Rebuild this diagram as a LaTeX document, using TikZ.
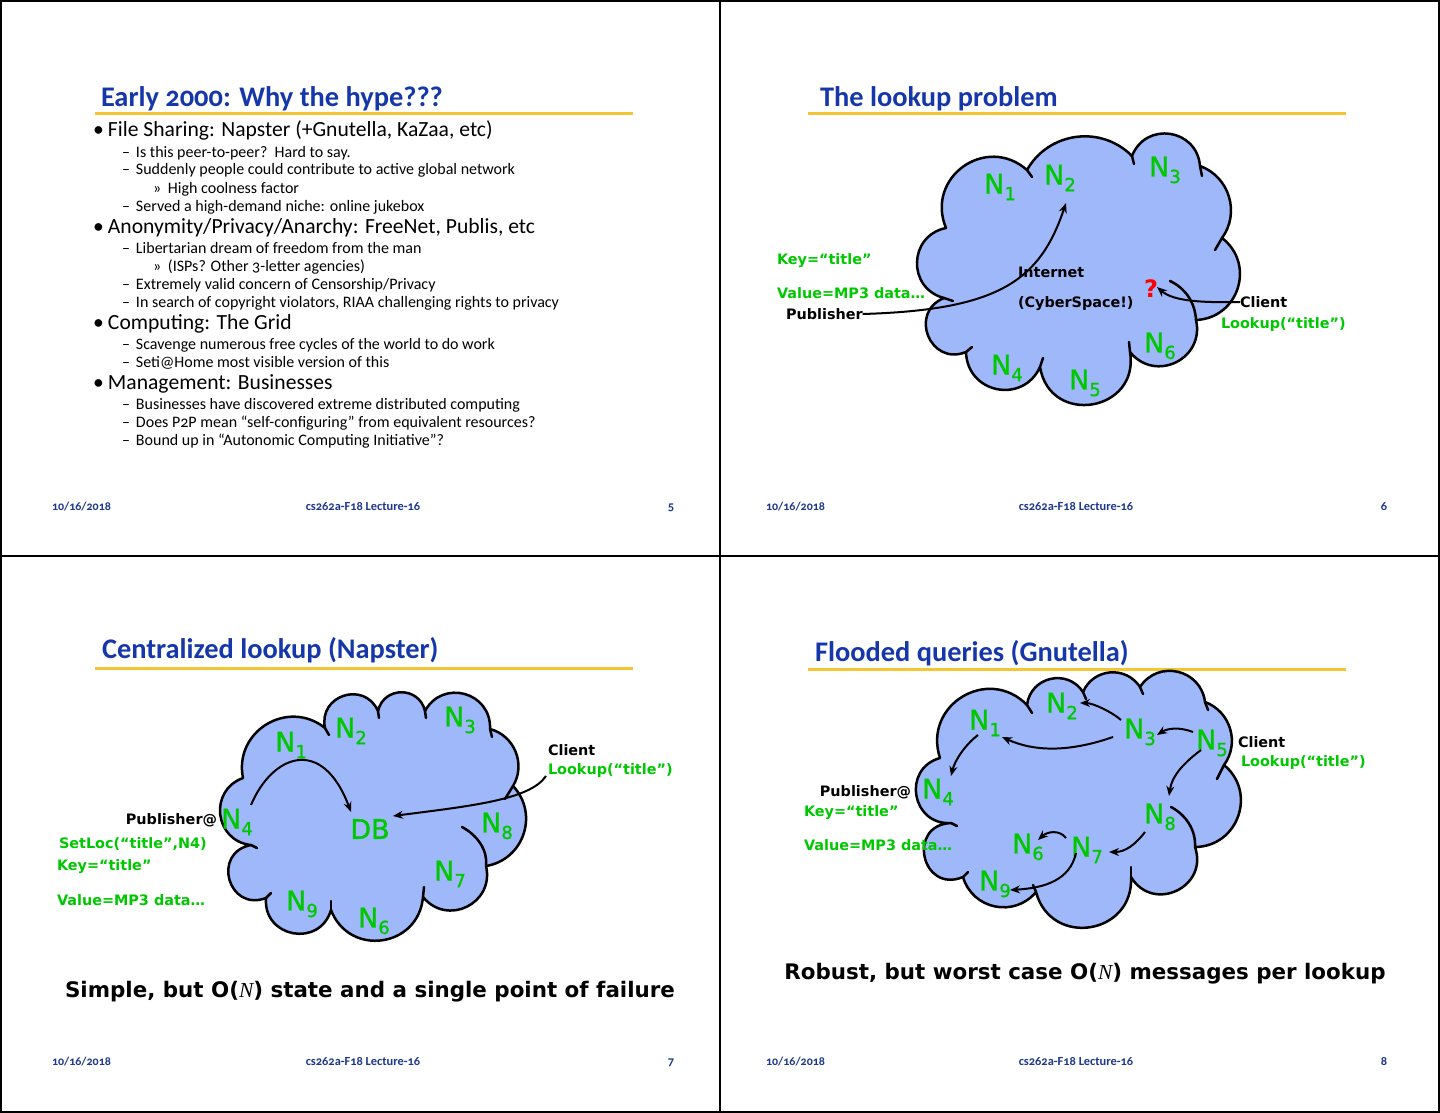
\documentclass[tikz,border=0pt]{standalone}
\usepackage{fontspec}
\setmainfont{Carlito}[Numbers=OldStyle]
\newfontfamily\comic{DejaVu Sans}
\newfontfamily\comicn{DejaVu Sans}[FakeBold=1.2]
\newfontfamily\serifit{Liberation Serif}
\usetikzlibrary{arrows.meta}
\definecolor{ttlblue}{RGB}{22,55,170}
\definecolor{gold}{RGB}{245,196,50}
\definecolor{lgreen}{RGB}{0,200,0}
\definecolor{cloudblue}{RGB}{158,184,250}
\definecolor{footblue}{RGB}{30,55,140}
\newcommand\nsub[1]{N\raisebox{-3.3pt}{\fontsize{9}{9}\selectfont#1}}
\tikzset{
  every node/.style={inner sep=0pt, outer sep=0pt},
  frame/.style={draw=black, line width=0.75pt},
  ttl/.style={anchor=base west, font=\fontsize{14.2}{16}\selectfont\bfseries, text=ttlblue},
  rulegold/.style={draw=gold, line width=1.5pt},
  footl/.style={anchor=base west, font=\fontsize{6}{7}\selectfont\bfseries, text=footblue},
  footc/.style={anchor=base, font=\fontsize{6.2}{7}\selectfont\bfseries, text=footblue},
  lvlA/.style={anchor=base west, font=\fontsize{10.8}{12}\selectfont},
  lvlB/.style={anchor=base west, font=\fontsize{8}{9}\selectfont},
  cloudbody/.style={draw=black, fill=cloudblue, line width=1.25pt, line join=round},
  hook/.style={draw=black, line width=1.25pt, line cap=round},
  nlab/.style={font=\comicn\fontsize{13.5}{14}\selectfont, text=lgreen},
  glab/.style={anchor=west, font=\comic\bfseries\fontsize{7.2}{8}\selectfont, text=lgreen},
  klab/.style={anchor=west, font=\comic\bfseries\fontsize{7.2}{8}\selectfont, text=black},
  arr/.style={draw=black, line width=1pt, -{Stealth[length=5pt,width=4pt]}},
  bigtxt/.style={font=\comic\bfseries\fontsize{10.7}{12}\selectfont},
  b25/.style={bend left=53,looseness=1.06},
  b30/.style={bend left=62,looseness=1.16},
  b35/.style={bend left=70,looseness=1.27},
  b40/.style={bend left=77,looseness=1.40},
  b45/.style={bend left=84,looseness=1.54},
  b50/.style={bend left=90,looseness=1.70},
  b55/.style={bend left=95,looseness=1.88},
  b60/.style={bend left=100,looseness=2.07}
}
\begin{document}
\begin{tikzpicture}[x=0.5pt,y=-0.5pt]
\useasboundingbox (0,0) rectangle (1440,1113);
\fill[white] (0,0) rectangle (1440,1113);
\draw[frame] (1,1) rectangle (1439,1112);
\draw[frame] (720,1) -- (720,1112);
\draw[frame] (1,556) -- (1439,556);

% ---------------- Slide 1 ----------------
\node[ttl] (t1) at (101,106) {Early 2000: Why the hype???};
\draw[rulegold] (95,114) -- (633,114);
\node[lvlA] (a1) at (93,137) {\makebox[7.5pt][l]{•}File Sharing: Napster (+Gnutella, KaZaa, etc)};
\node[lvlB] (a2) at (122,157) {\makebox[7pt][l]{–}Is this peer-to-peer?\ \ Hard to say.};
\node[lvlB] (a3) at (122,175) {\makebox[7pt][l]{–}Suddenly people could contribute to active global network};
\node[lvlB] (a4) at (153,193) {\makebox[7.5pt][l]{»}High coolness factor};
\node[lvlB] (a5) at (122,211) {\makebox[7pt][l]{–}Served a high-demand niche: online jukebox};
\node[lvlA] (a6) at (93,233) {\makebox[7.5pt][l]{•}Anonymity/Privacy/Anarchy: FreeNet, Publis, etc};
\node[lvlB] (a7) at (122,253) {\makebox[7pt][l]{–}Libertarian dream of freedom from the man};
\node[lvlB] (a8) at (153,271) {\makebox[7.5pt][l]{»}(ISPs? Other 3-letter agencies)};
\node[lvlB] (a9) at (122,289) {\makebox[7pt][l]{–}Extremely valid concern of Censorship/Privacy};
\node[lvlB] (a10) at (122,307) {\makebox[7pt][l]{–}In search of copyright violators, RIAA challenging rights to privacy};
\node[lvlA] (a11) at (93,329) {\makebox[7.5pt][l]{•}Computing: The Grid};
\node[lvlB] (a12) at (122,349) {\makebox[7pt][l]{–}Scavenge numerous free cycles of the world to do work};
\node[lvlB] (a13) at (122,367) {\makebox[7pt][l]{–}Seti@Home most visible version of this};
\node[lvlA] (a14) at (93,389) {\makebox[7.5pt][l]{•}Management: Businesses};
\node[lvlB] (a15) at (122,409) {\makebox[7pt][l]{–}Businesses have discovered extreme distributed computing};
\node[lvlB] (a16) at (122,427) {\makebox[7pt][l]{–}Does P2P mean “self-configuring” from equivalent resources?};
\node[lvlB] (a17) at (122,445) {\makebox[7pt][l]{–}Bound up in “Autonomic Computing Initiative”?};
\node[footl] (f1a) at (52,510) {10/16/2018};
\node[footc] (f1b) at (363,510) {cs262a-F18 Lecture-16};
\node[footc] (f1c) at (671,510) {5};

% ---------------- Slide 2 ----------------
\node[ttl] (t2) at (820,106) {The lookup problem};
\draw[rulegold] (808,114) -- (1346,114);
\path[cloudbody] (946,228) to[b40] (1027,170) to[b25] (1132,156) to[b40] (1200,166) to[b25] (1222,238) to[b35] (1196,320) to[b40] (1130,352) to[b50] (1040,367) to[b40] (966,352) to[b50] (944,298) to[b40] (946,228) -- cycle;
\draw[hook] (1027,170) -- (1032,177);
\draw[hook] (1132,156) -- (1134,164);
\draw[hook] (1200,166) -- (1202,176);
\draw[hook] (1222,238) -- (1215,250);
\draw[hook] (1170,281) .. controls (1185,288) and (1195,302) .. (1196,320);
\draw[hook] (1130,352) -- (1129,342);
\draw[hook] (1040,367) -- (1043,358);
\draw[hook] (966,352) -- (972,347);
\draw[hook] (944,298) -- (953,301);
\node[nlab] (b1) at (1000,187) {\nsub{1}};
\node[nlab] (b2) at (1060,178) {\nsub{2}};
\node[nlab] (b3) at (1165,170) {\nsub{3}};
\node[nlab] (b4) at (1007,368) {\nsub{4}};
\node[nlab] (b5) at (1085,383) {\nsub{5}};
\node[nlab] (b6) at (1160,346) {\nsub{6}};
\node[glab] (bkey) at (777,261) {Key=“title”};
\node[glab] (bval) at (777,293) {Value=MP3 data…};
\node[klab] (bpub) at (786,314) {Publisher};
\node[klab] (binet) at (1018,272) {Internet};
\node[klab] (bcyb) at (1018,304) {(CyberSpace!)};
\node[font=\comic\bfseries\fontsize{12}{12}\selectfont, text=red] (bq) at (1151,289) {?};
\node[klab] (bcli) at (1240,302) {Client};
\node[glab] (blook) at (1221,325) {Lookup(“title”)};
\draw[arr] (bpub.east) .. controls (1000,310) and (1040,280) .. ([shift={(6,25)}]b2.center);
\draw[arr] (bcli.west) .. controls (1195,303) and (1172,300) .. ([shift={(6,-2)}]bq.center);
\node[footl] (f2a) at (766,510) {10/16/2018};
\node[footc] (f2b) at (1076,510) {cs262a-F18 Lecture-16};
\node[footc] (f2c) at (1384,510) {6};

% ---------------- Slide 3 ----------------
\node[ttl] (t3) at (102,658) {Centralized lookup (Napster)};
\draw[rulegold] (95,668) -- (633,668);
\path[cloudbody] (243,778) to[b35] (325,728) to[b45] (378,711) to[b40] (425,711) to[b40] (490,729) to[b25] (513,786) to[b30] (486,866) to[b40] (423,897) to[b40] (331,910) to[b45] (266,898) to[b55] (251,845) to[b40] (243,778) -- cycle;
\draw[hook] (325,728) -- (329,735);
\draw[hook] (378,711) -- (379,718);
\draw[hook] (425,711) -- (426,718);
\draw[hook] (490,729) -- (492,737);
\draw[hook] (513,786) -- (505,799);
\draw[hook] (462,827) .. controls (477,835) and (488,850) .. (486,866);
\draw[hook] (423,897) -- (424,887);
\draw[hook] (331,910) -- (331,901);
\draw[hook] (266,898) -- (271,893);
\draw[hook] (251,845) -- (257,848);
\node[nlab] (c1) at (291,745) {\nsub{1}};
\node[nlab] (c2) at (351,731) {\nsub{2}};
\node[nlab] (c3) at (460,720) {\nsub{3}};
\node[nlab] (c4) at (237,822) {\nsub{4}};
\node[nlab] (cdb) at (370,829) {DB};
\node[nlab] (c8) at (497,826) {\nsub{8}};
\node[nlab] (c7) at (450,874) {\nsub{7}};
\node[nlab] (c9) at (302,904) {\nsub{9}};
\node[nlab] (c6) at (374,921) {\nsub{6}};
\node[klab] (ccli) at (548,750) {Client};
\node[glab] (clook) at (548,771) {Lookup(“title”)};
\node[klab, anchor=east] (cpub) at (217,820) {Publisher@};
\node[glab] (cset) at (59,844) {SetLoc(“title”,N4)};
\node[glab] (ckey) at (57,867) {Key=“title”};
\node[glab] (cval) at (57,900) {Value=MP3 data…};
\draw[arr] ([shift={(14,-17)}]c4.center) .. controls (272,755) and (322,735) .. ([shift={(-19,-17)}]cdb.center);
\draw[arr] ([shift={(-2,5)}]clook.west) .. controls (530,800) and (470,806) .. ([shift={(23,-13)}]cdb.center);
\node[bigtxt] (csum) at (370,992) {Simple, but O({\serifit\mdseries\itshape N}) state and a single point of failure};
\node[footl] (f3a) at (52,1065) {10/16/2018};
\node[footc] (f3b) at (363,1065) {cs262a-F18 Lecture-16};
\node[footc] (f3c) at (671,1065) {7};

% ---------------- Slide 4 ----------------
\node[ttl] (t4) at (815,661) {Flooded queries (Gnutella)};
\draw[rulegold] (808,669) -- (1346,669);
\path[cloudbody] (940,758) to[b40] (1027,705) to[b35] (1083,692) to[b30] (1140,687) to[b35] (1205,702) to[b25] (1224,765) to[b35] (1195,847) to[b45] (1131,877) to[b45] (1036,892) to[b30] (963,877) to[b60] (951,823) to[b45] (940,758) -- cycle;
\draw[hook] (1027,705) -- (1032,713);
\draw[hook] (1083,692) -- (1086,699);
\draw[hook] (1140,687) -- (1143,694);
\draw[hook] (1205,702) -- (1208,710);
\draw[hook] (1224,765) -- (1217,779);
\draw[hook] (1171,807) .. controls (1186,815) and (1196,830) .. (1195,847);
\draw[hook] (1131,877) -- (1131,867);
\draw[hook] (1036,892) -- (1033,885);
\draw[hook] (963,877) -- (968,872);
\draw[hook] (951,823) -- (957,826);
\node[nlab] (d1) at (985,723) {\nsub{1}};
\node[nlab] (d2) at (1062,706) {\nsub{2}};
\node[nlab] (d3) at (1140,732) {\nsub{3}};
\node[nlab] (d5) at (1212,743) {\nsub{5}};
\node[nlab] (d4) at (938,792) {\nsub{4}};
\node[nlab] (d8) at (1160,817) {\nsub{8}};
\node[nlab] (d6) at (1028,847) {\nsub{6}};
\node[nlab] (d7) at (1087,850) {\nsub{7}};
\node[nlab] (d9) at (995,884) {\nsub{9}};
\node[klab] (dcli) at (1238,742) {Client};
\node[glab] (dlook) at (1241,763) {Lookup(“title”)};
\node[klab, anchor=east] (dpub) at (911,792) {Publisher@};
\node[glab] (dkey) at (804,813) {Key=“title”};
\node[glab] (dval) at (804,845) {Value=MP3 data…};
\draw[arr] ([shift={(-19,-12)}]d3.center) .. controls (1112,712) and (1093,703) .. ([shift={(18,-3)}]d2.center);
\draw[arr] ([shift={(-27,5)}]d3.center) .. controls (1070,752) and (1035,752) .. ([shift={(17,14)}]d1.center);
\draw[arr] ([shift={(-19,-11)}]d5.center) .. controls (1180,727) and (1168,728) .. ([shift={(17,3)}]d3.center);
\draw[arr] ([shift={(-7,12)}]d1.center) .. controls (965,745) and (955,760) .. ([shift={(13,-16)}]d4.center);
\draw[arr] ([shift={(-11,7)}]d5.center) .. controls (1185,762) and (1172,775) .. ([shift={(9,-21)}]d8.center);
\draw[arr] ([shift={(-15,15)}]d8.center) .. controls (1135,845) and (1125,852) .. ([shift={(22,2)}]d7.center);
\draw[arr] ([shift={(-21,-12)}]d7.center) .. controls (1060,830) and (1048,831) .. ([shift={(10,-7)}]d6.center);
\draw[arr] ([shift={(-11,3)}]d7.center) .. controls (1070,880) and (1045,888) .. ([shift={(15,6)}]d9.center);
\node[bigtxt] (dsum) at (1085,974) {Robust, but worst case O({\serifit\mdseries\itshape N}) messages per lookup};
\node[footl] (f4a) at (766,1065) {10/16/2018};
\node[footc] (f4b) at (1076,1065) {cs262a-F18 Lecture-16};
\node[footc] (f4c) at (1384,1065) {8};
\end{tikzpicture}
\end{document}
